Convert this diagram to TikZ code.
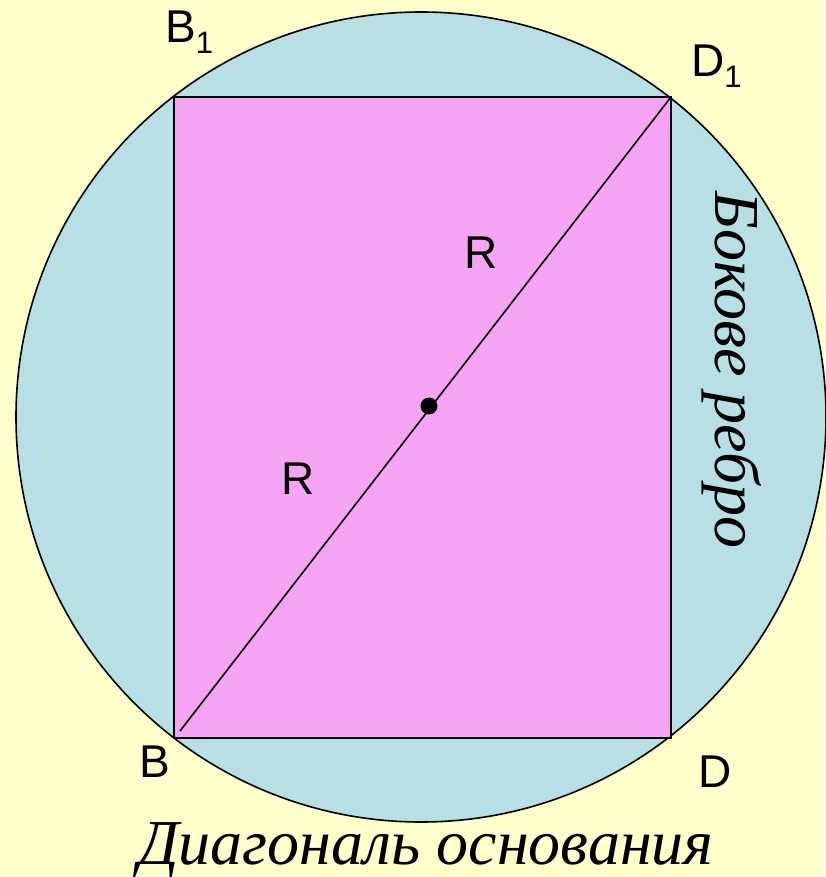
\documentclass[tikz,border=0pt]{standalone}
\usepackage{fontspec}
\setmainfont{Liberation Serif}
\newfontfamily\labfont{Liberation Sans}
\definecolor{bgyellow}{HTML}{FFFFCC}
\definecolor{circfill}{HTML}{B8DFE3}
\definecolor{rectfill}{HTML}{F5A3F3}
\begin{document}
\begin{tikzpicture}[x=1pt,y=-1pt,
  lab/.style={font=\labfont\fontsize{46}{46}\selectfont, inner sep=0pt},
  big/.style={font=\itshape\fontsize{64}{64}\selectfont, inner sep=0pt},
  edge/.style={draw=black, line width=1.6pt}]
\useasboundingbox (0,0) rectangle (825,877);
\fill[bgyellow] (0,0) rectangle (825,877);
\coordinate (O) at (421,417);
\fill[circfill] (O) circle[radius=405pt];
\draw[line width=1.6pt] (O) circle[radius=405pt];
\coordinate (B) at (174,738);
\coordinate (B1) at (174,97);
\coordinate (D1) at (671,97);
\coordinate (D) at (671,738);
\coordinate (Bs) at (180,731);
\filldraw[fill=rectfill, edge] (B) -- (B1) -- (D1) -- (D) -- cycle;
\draw[line width=1.6pt] (Bs) -- (D1);
\node[circle, fill=black, inner sep=0pt, minimum size=17pt] (M) at (429,406) {};
\node[lab, anchor=base west] (lB1) at (165,43) {B\raisebox{-11pt}{\fontsize{31}{31}\selectfont 1}};
\node[lab, anchor=base west] (lD1) at (691,77) {D\raisebox{-11pt}{\fontsize{31}{31}\selectfont 1}};
\node[lab, anchor=base west] (lB) at (139,777) {B};
\node[lab, anchor=base west] (lD) at (698,787) {D};
\node[lab, anchor=base west] (R1) at (464,268) {R};
\node[lab, anchor=base west] (R2) at (281,494) {R};
\node[big, anchor=base] (bot) at (426,864) {Диагональ основания};
\node[big, rotate=-90, anchor=base] (side) at (715,370) {Бокове ребро};
\end{tikzpicture}
\end{document}
